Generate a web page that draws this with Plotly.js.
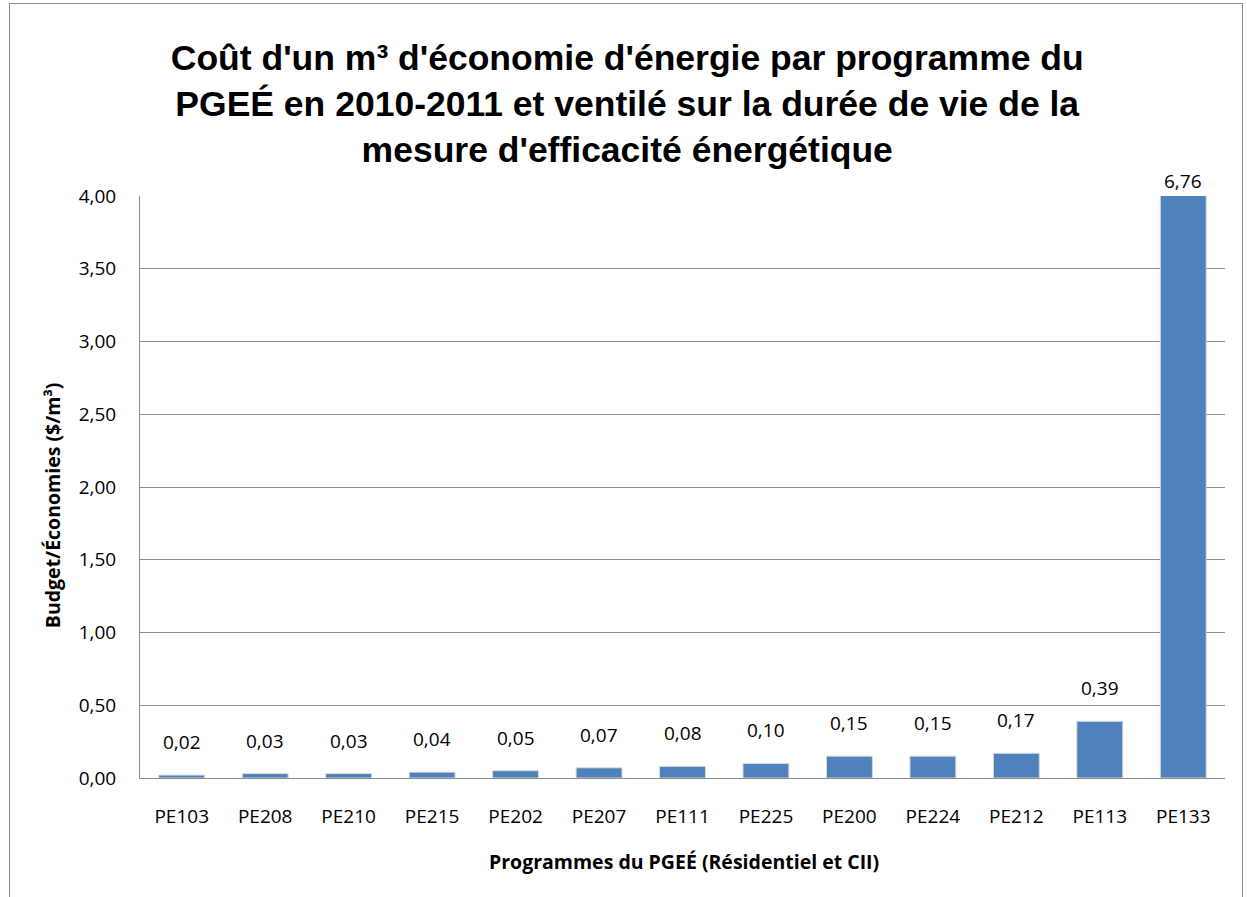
<!DOCTYPE html>
<html>
<head>
<meta charset="utf-8">
<script src="https://cdn.plot.ly/plotly-3.0.1.min.js"></script>
<style>
body{margin:0;padding:0;background:#fff;}
#wrap{position:relative;width:1247px;height:897px;overflow:hidden;}
#chart{width:1247px;height:897px;}
#border{position:absolute;left:9px;top:3px;width:1232px;height:930px;border:1px solid #8c8c8c;pointer-events:none;}
</style>
</head>
<body>
<div id="wrap"><div id="chart"></div><div id="border"></div></div>
<script>
const categories = ["PE103","PE208","PE210","PE215","PE202","PE207","PE111","PE225","PE200","PE224","PE212","PE113","PE133"];
const values = [0.02,0.03,0.03,0.04,0.05,0.07,0.08,0.10,0.15,0.15,0.17,0.39,6.76];
const yMax = 4;
const yTickVals = [0,0.5,1,1.5,2,2.5,3,3.5,4];

const fmt = v => v.toFixed(2).replace('.', ',');
const FONT = "Open Sans, Liberation Sans, sans-serif";

const trace = {
  type: 'bar',
  x: categories,
  y: values,
  marker: {color: '#4F81BD', line: {color: '#d9d9d9', width: 1}},
  hoverinfo: 'x+y',
  cliponaxis: true
};

const labelAnn = categories.map((c, i) => ({
  x: c, y: Math.min(values[i], yMax), xref: 'x', yref: 'y',
  text: fmt(values[i]), showarrow: false,
  yanchor: 'bottom', yshift: values[i] >= yMax ? 0 : 18,
  font: {family: FONT, size: 19, color: '#000'}
}));

const layout = {
  width: 1247, height: 897,
  margin: {l: 140, r: 22, t: 196, b: 119},
  paper_bgcolor: '#fff', plot_bgcolor: '#fff',
  separators: ', ',
  showlegend: false,
  bargap: 0.45,
  title: {
    text: "Coût d'un m³ d'économie d'énergie par programme du<br>PGEÉ en 2010-2011 et ventilé sur la durée de vie de la<br>mesure d'efficacité énergétique",
    font: {family: "Liberation Sans, Arial, sans-serif", size: 35.5, color: '#000', weight: 'bold'},
    x: 0.503, xanchor: 'center', xref: 'container',
    y: 0.922, yanchor: 'middle', yref: 'container'
  },
  xaxis: {
    type: 'category',
    showgrid: false,
    showline: true, linecolor: '#8c8c8c', linewidth: 1,
    ticks: '', ticklabelstandoff: 21,
    tickfont: {family: FONT, size: 19, color: '#000'},
    fixedrange: true
  },
  yaxis: {
    range: [0, yMax],
    tickvals: yTickVals,
    tickformat: '.2f',
    showgrid: true, gridcolor: '#8c8c8c', gridwidth: 1,
    showline: true, linecolor: '#8c8c8c', linewidth: 1,
    zeroline: false,
    ticks: '', ticklabelstandoff: 19,
    tickfont: {family: FONT, size: 19, color: '#000'},
    fixedrange: true
  },
  annotations: labelAnn.concat([
    {text: 'Budget/Économies ($/m³)', xref: 'paper', yref: 'paper',
     x: -0.081, y: 0.469, xanchor: 'center', yanchor: 'middle', textangle: -90, showarrow: false,
     font: {family: FONT, size: 19.5, color: '#000', weight: 'bold'}},
    {text: 'Programmes du PGEÉ (Résidentiel et CII)', xref: 'paper', yref: 'paper',
     x: 0.501, y: -0.144, xanchor: 'center', yanchor: 'middle', showarrow: false,
     font: {family: FONT, size: 19.5, color: '#000', weight: 'bold'}}
  ])
};

Plotly.newPlot('chart', [trace], layout, {displayModeBar: false, staticPlot: true});
</script>
</body>
</html>
